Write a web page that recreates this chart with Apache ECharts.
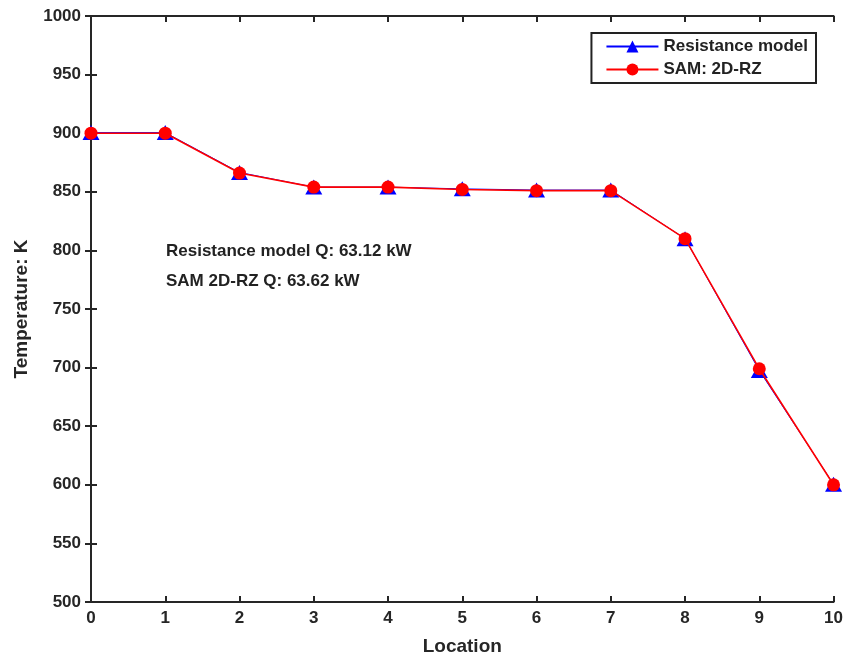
<!DOCTYPE html>
<html>
<head>
<meta charset="utf-8">
<script src="https://cdn.jsdelivr.net/npm/echarts@6/dist/echarts.min.js"></script>
<style>html,body{margin:0;padding:0;background:#fff}#c{width:846px;height:661px}</style>
</head>
<body>
<div id="c"></div>
<script>
var locations = [0,1,2,3,4,5,6,7,8,9,10];
var resistanceModel = [900.5, 900.5, 866.5, 854, 854, 852.5, 851.5, 851.5, 810, 697.5, 600.5];
var sam2DRZ = [900, 900, 866, 854, 854, 852, 851, 851, 810, 699, 600];
var annotations = ['Resistance model Q: 63.12 kW', 'SAM 2D-RZ Q: 63.62 kW'];

var chart = echarts.init(document.getElementById('c'));
var font = 'Liberation Sans, Arial, sans-serif';
var axisCol = '#262626';
function pairs(arr){ return arr.map(function(v,i){ return [locations[i], v]; }); }
chart.setOption({
  animation: false,
  grid: {left: 91, right: 12, top: 16, bottom: 58},
  legend: {
    right: 30, top: 33, orient: 'vertical', itemWidth: 52, itemHeight: 15, itemGap: 6,
    backgroundColor: '#fff', borderColor: '#222', borderWidth: 2, padding: [5, 8, 5, 14],
    textStyle: {fontFamily: font, fontWeight: 'bold', fontSize: 17, color: '#222'},
    data: ['Resistance model', 'SAM: 2D-RZ']
  },
  xAxis: [{
    type: 'value', min: 0, max: 10, interval: 1, position: 'bottom',
    name: 'Location', nameLocation: 'middle', nameGap: 35,
    nameTextStyle: {fontFamily: font, fontWeight: 'bold', fontSize: 19, color: axisCol},
    axisLine: {lineStyle: {color: axisCol, width: 2}},
    axisTick: {inside: true, length: 6, lineStyle: {color: axisCol, width: 2}},
    axisLabel: {fontFamily: font, fontWeight: 'bold', fontSize: 17, color: axisCol, margin: 8},
    splitLine: {show: false}
  }, {
    type: 'value', min: 0, max: 10, interval: 1, position: 'top',
    axisLine: {lineStyle: {color: axisCol, width: 2}},
    axisTick: {inside: true, length: 6, lineStyle: {color: axisCol, width: 2}},
    axisLabel: {show: false}, splitLine: {show: false}
  }],
  yAxis: [{
    type: 'value', min: 500, max: 1000, interval: 50, position: 'left',
    name: 'Temperature: K', nameLocation: 'middle', nameGap: 60,
    nameTextStyle: {fontFamily: font, fontWeight: 'bold', fontSize: 19, color: axisCol},
    axisLine: {show: true, lineStyle: {color: axisCol, width: 2}},
    axisTick: {show: true, inside: true, length: 6, lineStyle: {color: axisCol, width: 2}},
    axisLabel: {fontFamily: font, fontWeight: 'bold', fontSize: 17, color: axisCol, margin: 10,
      formatter: function(v){ return String(v); }},
    splitLine: {show: false}
  }, {
    type: 'value', min: 500, max: 1000, interval: 50, position: 'right',
    axisLine: {show: true, lineStyle: {color: axisCol, width: 2}},
    axisTick: {show: true, inside: true, length: 6, lineStyle: {color: axisCol, width: 2}},
    axisLabel: {show: false}, splitLine: {show: false}
  }],
  series: [{
    name: 'Resistance model', type: 'line', data: pairs(resistanceModel),
    symbol: 'triangle', symbolSize: [17, 15],
    lineStyle: {color: '#0000ff', width: 1},
    itemStyle: {color: '#0000ff'}, z: 2
  }, {
    name: 'SAM: 2D-RZ', type: 'line', data: pairs(sam2DRZ),
    symbol: 'circle', symbolSize: 13,
    lineStyle: {color: '#ff0000', width: 1.6},
    itemStyle: {color: '#ff0000'}, z: 3
  }],
  graphic: [{
    type: 'text', left: 166, top: 243,
    style: {text: annotations[0], fontFamily: font, fontWeight: 'bold', fontSize: 17, fill: '#222'}
  }, {
    type: 'text', left: 166, top: 273,
    style: {text: annotations[1], fontFamily: font, fontWeight: 'bold', fontSize: 17, fill: '#222'}
  }]
});
</script>
</body>
</html>
